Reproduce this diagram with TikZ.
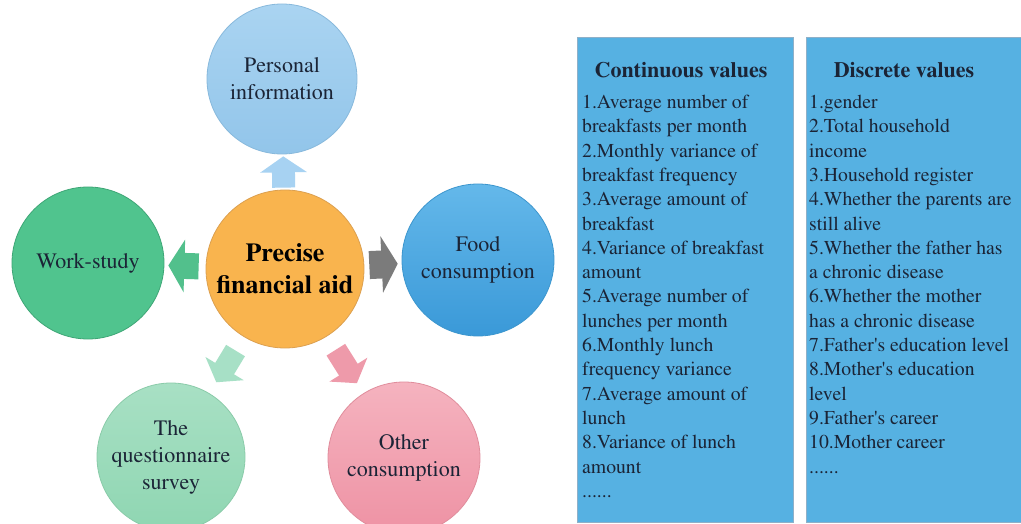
\documentclass[tikz,border=0pt]{standalone}
\usepackage[T1]{fontenc}
\usepackage{mathptmx}
\usepackage{tikz}
\usetikzlibrary{arrows.meta}

\definecolor{inkc}{HTML}{1B2436}
\definecolor{boxblue}{HTML}{56B1E2}
\definecolor{boxline}{HTML}{8FB0C8}
\definecolor{aidfill}{RGB}{249,180,78}
\definecolor{aidline}{RGB}{220,160,80}
\definecolor{perstop}{RGB}{170,212,241}
\definecolor{persbot}{RGB}{146,197,234}
\definecolor{persline}{RGB}{136,185,220}
\definecolor{workfill}{RGB}{80,196,142}
\definecolor{workline}{RGB}{62,166,118}
\definecolor{foodtop}{RGB}{100,184,234}
\definecolor{foodbot}{RGB}{58,153,216}
\definecolor{foodline}{RGB}{60,150,206}
\definecolor{questtop}{RGB}{168,224,196}
\definecolor{questbot}{RGB}{143,214,178}
\definecolor{questline}{RGB}{138,203,169}
\definecolor{othertop}{RGB}{245,179,191}
\definecolor{otherbot}{RGB}{238,146,164}
\definecolor{otherline}{RGB}{224,141,156}
\definecolor{uparr}{RGB}{167,210,242}
\definecolor{leftarr}{RGB}{82,192,140}
\definecolor{rightarr}{RGB}{123,123,123}
\definecolor{dlarr}{RGB}{167,224,198}
\definecolor{drarr}{RGB}{238,154,170}

\begin{document}
\begin{tikzpicture}[x=1pt, y=-1pt,
  topic/.style={circle, inner sep=0pt, minimum size=#1, align=center, text=inkc, line width=0.8pt,
    font=\fontsize{22}{27}\selectfont},
  push/.style={line width=#1, -{Triangle[width=2*#1, length=16pt]}},
  listbox/.style={draw=boxline, fill=boxblue, line width=1pt, inner sep=0pt, anchor=north west},
  head/.style={font=\fontsize{22}{26}\selectfont\bfseries, text=inkc, inner sep=0pt},
  items/.style={font=\fontsize{19.7}{24.3}\selectfont, text=inkc, align=left, inner sep=0pt, anchor=north west}]
  \useasboundingbox[fill=white] (0,0) rectangle (1021,524);

  \node[topic=158, fill=aidfill, draw=aidline, font=\fontsize{26}{32}\selectfont\bfseries, text=black] (aid) at (285,269) {Precise\\financial aid};
  \node[topic=150, top color=perstop, bottom color=persbot, draw=persline] (pers) at (282,79) {Personal\\information};
  \node[topic=152, fill=workfill, draw=workline] (work) at (88,263) {Work-study};
  \node[topic=152, top color=foodtop, bottom color=foodbot, draw=foodline] (food) at (478,260) {Food\\consumption};
  \node[topic=148, top color=questtop, bottom color=questbot, draw=questline] (quest) at (171,457) {The\\questionnaire\\survey};
  \node[topic=152, top color=othertop, bottom color=otherbot, draw=otherline] (other) at (404,458) {Other\\consumption};

  \draw[push=23pt, uparr, shorten <=2pt, shorten >=2pt] (aid) -- (pers);
  \draw[push=26pt, leftarr, shorten <=7pt, shorten >=4pt] (aid) -- (work);
  \draw[push=28pt, rightarr, shorten <=5pt, shorten >=4pt] (aid) -- (food);
  \draw[push=22pt, dlarr, shorten <=16pt, shorten >=13pt] (aid) -- (quest);
  \draw[push=22pt, drarr, shorten <=16pt, shorten >=12pt] (aid) -- (other);

  \node[listbox, minimum width=216, minimum height=485] (cont) at (577,37) {};
  \node[listbox, minimum width=222, minimum height=485] (disc) at (806,37) {};
  \node[head] (conthead) at (681,70) {Continuous values};
  \node[head] (dischead) at (904,70) {Discrete values};
  \node[items] (contlist) at (582,95) {1.Average number of\\breakfasts per month\\2.Monthly variance of\\
    breakfast frequency\\3.Average amount of\\breakfast\\4.Variance of breakfast\\amount\\
    5.Average number of\\lunches per month\\6.Monthly lunch\\frequency variance\\
    7.Average amount of\\lunch\\8.Variance of lunch\\amount\\......};
  \node[items] (disclist) at (809,95) {1.gender\\2.Total household\\income\\3.Household register\\
    4.Whether the parents are\\still alive\\5.Whether the father has\\a chronic disease\\
    6.Whether the mother\\has a chronic disease\\7.Father\textquotesingle s education level\\8.Mother\textquotesingle s education\\
    level\\9.Father\textquotesingle s career\\10.Mother career\\......};
\end{tikzpicture}
\end{document}
